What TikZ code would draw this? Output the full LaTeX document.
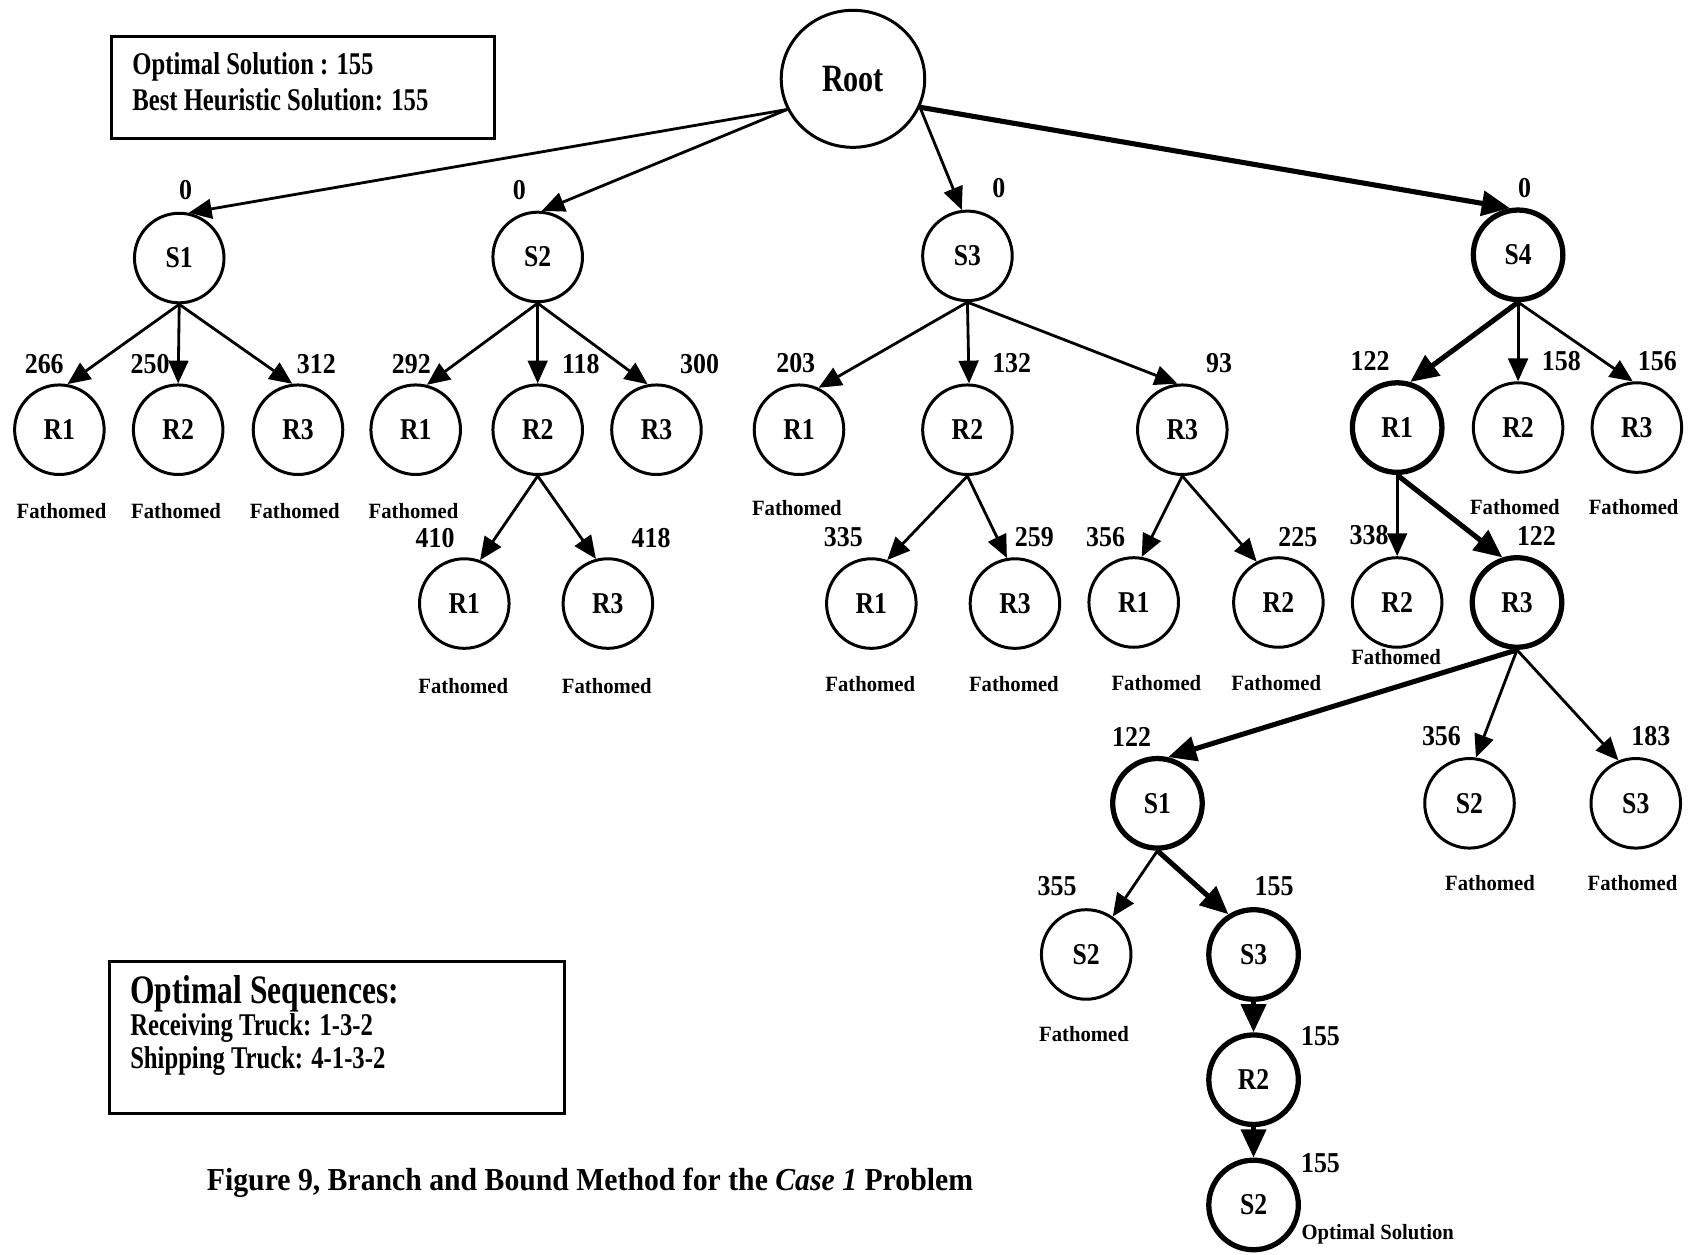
\documentclass[tikz,border=0pt]{standalone}
\usepackage{fontspec}
\setmainfont{Liberation Serif}
\newfontfamily\cond{Liberation Serif}[FakeStretch=0.78]
\newfontfamily\lbl{Liberation Serif}[FakeStretch=0.85]
\newfontfamily\numf{Liberation Serif}[FakeStretch=0.9]
\newfontfamily\heavy{Liberation Serif}[FakeStretch=0.95]
\newfontfamily\capf{Liberation Serif}[FakeStretch=0.93]
\usetikzlibrary{arrows.meta,shapes.geometric}

\tikzset{
  nd/.style={circle, draw, line width=0.85pt, minimum size=0.896cm, inner sep=0pt,
    font=\lbl\bfseries\fontsize{8.6}{10}\selectfont},
  best/.style={nd, line width=1.5pt},
  num/.style={inner sep=0pt, font=\numf\bfseries\fontsize{8.2}{9}\selectfont},
  fath/.style={inner sep=0pt, font=\heavy\bfseries\fontsize{6.2}{7}\selectfont},
  edge/.style={line width=0.8pt, -{Triangle[length=6.5pt,width=5.6pt]}},
  bedge/.style={line width=1.45pt, -{Triangle[length=8pt,width=7pt]}},
  boxtxt/.style={inner sep=0pt, anchor=west, font=\cond\bfseries\fontsize{9}{10}\selectfont},
  frame/.style={draw, line width=0.85pt, inner sep=0pt},
}

\begin{document}
\begin{tikzpicture}[x=0.010797cm, y=-0.010797cm]
\useasboundingbox (0,0) rectangle (1568,1162);

% summary boxes
\node[frame, minimum width=3.833cm, minimum height=1.015cm] (box1) at (280.5,81) {};
\node[boxtxt] (box1a) at (122,62) {Optimal Solution : 155};
\node[boxtxt] (box1b) at (122,92) {Best Heuristic Solution: 155};

\node[frame, minimum width=4.556cm, minimum height=1.522cm] (box2) at (312,960.5) {};
\node[boxtxt, font=\cond\bfseries\fontsize{11.5}{12}\selectfont] (box2a) at (120,920) {Optimal Sequences:};
\node[boxtxt] (box2b) at (120,952) {Receiving Truck: 1-3-2};
\node[boxtxt] (box2c) at (120,983) {Shipping Truck: 4-1-3-2};

\node[inner sep=0pt, anchor=west, font=\capf\bfseries\fontsize{9.1}{10}\selectfont] (caption) at (191,1095)
  {Figure 9, Branch and Bound Method for the \textit{Case 1} Problem};

% tree nodes
\node[ellipse, draw, line width=0.85pt, minimum width=1.436cm, minimum height=1.371cm, inner sep=0pt,
  font=\cond\bfseries\fontsize{11}{12}\selectfont] (root) at (790,73) {Root};

\node[nd]   (s1) at (166,239) {S1};
\node[nd]   (s2) at (498,238) {S2};
\node[nd]   (s3) at (896,237) {S3};
\node[best] (s4) at (1406,236) {S4};

\node[nd] (a1) at (55,398) {R1};
\node[nd] (a2) at (165,398) {R2};
\node[nd] (a3) at (276,398) {R3};

\node[nd] (b1) at (385,398) {R1};
\node[nd] (b2) at (498,398) {R2};
\node[nd] (b3) at (608,398) {R3};
\node[nd] (b21) at (430,559) {R1};
\node[nd] (b23) at (563,559) {R3};

\node[nd] (c1) at (740,398) {R1};
\node[nd] (c2) at (896,398) {R2};
\node[nd] (c3) at (1095,398) {R3};
\node[nd] (c21) at (807,559) {R1};
\node[nd] (c23) at (940,559) {R3};
\node[nd] (c31) at (1050,558) {R1};
\node[nd] (c32) at (1184,558) {R2};

\node[best] (d1) at (1294,396) {R1};
\node[nd]   (d2) at (1406,396) {R2};
\node[nd]   (d3) at (1516,396) {R3};
\node[nd]   (d12) at (1294,558) {R2};
\node[best] (d13) at (1405,558) {R3};

\node[best] (e1) at (1072,744) {S1};
\node[nd]   (e2) at (1361,744) {S2};
\node[nd]   (e3) at (1515,744) {S3};

\node[nd]   (f2) at (1006,884) {S2};
\node[best] (f3) at (1161,884) {S3};
\node[best] (g)  at (1161,1000) {R2};
\node[best] (h)  at (1161,1116) {S2};

% branches
\draw[edge]  (root.205) -- (s1.78);
\draw[edge]  (root.205) -- (s2.85);
\draw[edge]  (root.337) -- (s3.97);
\draw[bedge] (root.337) -- (s4.100);

\draw[edge] (s1.south) -- (a1.80);
\draw[edge] (s1.south) -- (a2.90);
\draw[edge] (s1.south) -- (a3.97);

\draw[edge] (s2.south) -- (b1.76);
\draw[edge] (s2.south) -- (b2.90);
\draw[edge] (s2.south) -- (b3.101);
\draw[edge] (b2.south) -- (b21.70);
\draw[edge] (b2.south) -- (b23.105);

\draw[edge] (s3.south) -- (c1.65);
\draw[edge] (s3.south) -- (c2.88);
\draw[edge] (s3.south) -- (c3.96);
\draw[edge] (c2.south) -- (c21.70);
\draw[edge] (c2.south) -- (c23.100);
\draw[edge] (c3.south) -- (c31.80);
\draw[edge] (c3.south) -- (c32.118);

\draw[bedge] (s4.south) -- (d1.74);
\draw[edge]  (s4.south) -- (d2.90);
\draw[edge]  (s4.south) -- (d3.95);
\draw[edge]  (d1.south) -- (d12.90);
\draw[bedge] (d1.south) -- (d13.108);

\draw[bedge] (d13.south) -- (e1.77);
\draw[edge]  (d13.south) -- (e2.82);
\draw[edge]  (d13.south) -- (e3.112);

\draw[edge]  (e1.south) -- (f2.55);
\draw[bedge] (e1.south) -- (f3.122);
\draw[bedge] (f3.south) -- (g.north);
\draw[bedge] (g.south) -- (h.north);

% bounds
\node[num] (n-s1) at (172,176) {0};
\node[num] (n-s2) at (481,176) {0};
\node[num] (n-s3) at (925,174) {0};
\node[num] (n-s4) at (1412,174) {0};

\node[num] (n-a1) at (41,337) {266};
\node[num] (n-a2) at (139,337) {250};
\node[num] (n-a3) at (293,337) {312};
\node[num] (n-b1) at (381,337) {292};
\node[num] (n-b2) at (538,337) {118};
\node[num] (n-b3) at (648,337) {300};
\node[num] (n-b21) at (403,498) {410};
\node[num] (n-b23) at (603,498) {418};

\node[num] (n-c1) at (737,336) {203};
\node[num] (n-c2) at (937,336) {132};
\node[num] (n-c3) at (1129,336) {93};
\node[num] (n-c21) at (781,497) {335};
\node[num] (n-c23) at (958,497) {259};
\node[num] (n-c31) at (1024,497) {356};
\node[num] (n-c32) at (1202,497) {225};

\node[num] (n-d1) at (1269,334) {122};
\node[num] (n-d2) at (1446,334) {158};
\node[num] (n-d3) at (1535,334) {156};
\node[num] (n-d12) at (1268,496) {338};
\node[num] (n-d13) at (1423,496) {122};

\node[num] (n-e1) at (1048,683) {122};
\node[num] (n-e2) at (1335,682) {356};
\node[num] (n-e3) at (1529,682) {183};
\node[num] (n-f2) at (979,821) {355};
\node[num] (n-f3) at (1180,821) {155};
\node[num] (n-g) at (1223,960) {155};
\node[num] (n-h) at (1223,1077) {155};

% pruned branches
\node[fath] (x-a1) at (57,473) {Fathomed};
\node[fath] (x-a2) at (163,473) {Fathomed};
\node[fath] (x-a3) at (273,473) {Fathomed};
\node[fath] (x-b1) at (383,473) {Fathomed};
\node[fath] (x-b21) at (429,635) {Fathomed};
\node[fath] (x-b23) at (562,635) {Fathomed};
\node[fath] (x-c1) at (738,471) {Fathomed};
\node[fath] (x-c21) at (806,634) {Fathomed};
\node[fath] (x-c23) at (939,634) {Fathomed};
\node[fath] (x-c31) at (1071,633) {Fathomed};
\node[fath] (x-c32) at (1182,633) {Fathomed};
\node[fath] (x-d2) at (1403,470) {Fathomed};
\node[fath] (x-d3) at (1513,470) {Fathomed};
\node[fath] (x-d12) at (1293,609) {Fathomed};
\node[fath] (x-e2) at (1380,818) {Fathomed};
\node[fath] (x-e3) at (1512,818) {Fathomed};
\node[fath] (x-f2) at (1004,958) {Fathomed};
\node[fath] (opt) at (1276,1143) {Optimal Solution};
\end{tikzpicture}
\end{document}
